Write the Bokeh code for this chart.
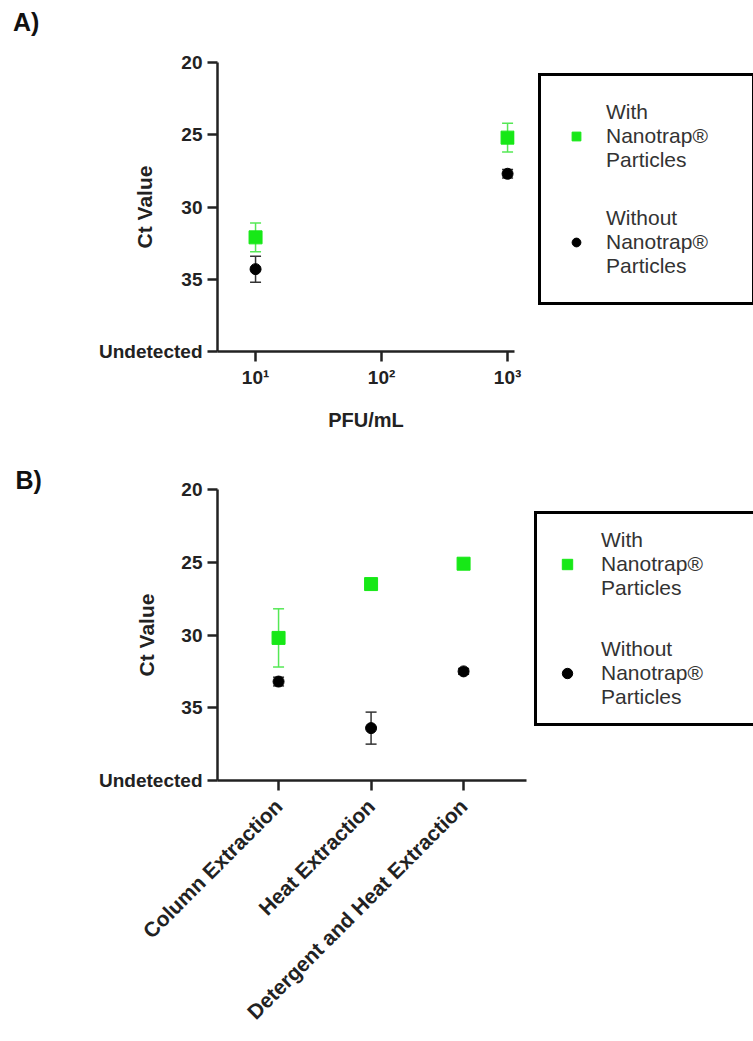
import math
from bokeh.plotting import figure
from bokeh.models import (Range1d, FixedTicker, Whisker, ColumnDataSource, Legend,
                          LegendItem, TeeHead, Div)
from bokeh.layouts import column
from bokeh.embed import file_html
from bokeh.resources import INLINE

# ---------------- data ----------------
conc = [10, 1000]
with_A = [32.1, 25.2]
with_A_err = [1.0, 1.0]
without_A = [34.3, 27.7]
without_A_err = [0.9, 0.3]

methods = ["Column Extraction", "Heat Extraction", "Detergent and Heat Extraction"]
with_B = [30.2, 26.5, 25.1]
with_B_err = [2.0, 0.2, 0.2]
without_B = [33.2, 36.4, 32.5]
without_B_err = [0.3, 1.1, 0.2]

y_ticks = [20, 25, 30, 35, 40]
y_overrides = {40: "Undetected"}
x_ticks_A = [10, 100, 1000]
x_labels_A = {10: "10\u00b9", 100: "10\u00b2", 1000: "10\u00b3"}

legend_with = "With\nNanotrap\u00ae\nParticles"
legend_without = "Without\nNanotrap\u00ae\nParticles"

GREEN = "#17E817"
GREEN_ERR = "#55E855"
FONT = "Liberation Sans"


def style(p):
    p.outline_line_color = None
    p.xgrid.visible = False
    p.ygrid.visible = False
    p.background_fill_color = "white"
    p.border_fill_color = "white"
    for ax in (p.xaxis[0], p.yaxis[0]):
        ax.axis_line_width = 2.5
        ax.axis_line_color = "#222222"
        ax.major_tick_line_width = 2.5
        ax.major_tick_line_color = "#222222"
        ax.major_tick_out = 10
        ax.major_tick_in = 0
        ax.minor_tick_line_color = None
        ax.major_label_text_font = FONT
        ax.major_label_text_font_style = "bold"
        ax.major_label_text_font_size = "19px"
        ax.major_label_text_color = "#222222"
        ax.major_label_standoff = 5
        ax.axis_label_text_font = FONT
        ax.axis_label_text_font_style = "bold"
        ax.axis_label_text_font_size = "21px"
        ax.axis_label_text_color = "#222222"
    p.yaxis[0].ticker = FixedTicker(ticks=y_ticks)
    p.yaxis[0].major_label_overrides = y_overrides


def errbars(p, xs, ys, errs, color):
    src = ColumnDataSource(dict(x=xs, lo=[y - e for y, e in zip(ys, errs)],
                                hi=[y + e for y, e in zip(ys, errs)]))
    w = Whisker(source=src, base="x", lower="lo", upper="hi", dimension="height",
                line_color=color, line_width=1.5,
                lower_head=TeeHead(size=11, line_color=color, line_width=1.5),
                upper_head=TeeHead(size=11, line_color=color, line_width=1.5))
    p.add_layout(w)


def make_legend(p, r_with, r_without, loc, padding, spacing, glyph_w, standoff, label_w):
    leg = Legend(items=[LegendItem(label=legend_with, renderers=[r_with]),
                        LegendItem(label=legend_without, renderers=[r_without])],
                 location=loc, padding=padding, spacing=spacing, margin=0,
                 glyph_width=glyph_w, glyph_height=26, label_standoff=standoff,
                 label_width=label_w, label_height=20,
                 border_line_color="black", border_line_width=3, border_line_alpha=1.0,
                 label_text_font=FONT, label_text_font_size="21px",
                 label_text_line_height=1.6, label_text_color="#333333",
                 background_fill_color="white", background_fill_alpha=1)
    p.add_layout(leg, "right")


# ---------------- panel label A ----------------
headA = Div(text='<div style="position:absolute; left:13px; top:10px; line-height:1; '
                 'font-family:\'Liberation Sans\'; font-weight:bold; font-size:25px; '
                 'color:#111111;">A)</div>',
            width=753, height=42, margin=0)

# ---------------- panel A ----------------
pA = figure(frame_width=297, frame_height=289, x_axis_type="log",
            x_range=Range1d(10 ** 0.698, 10 ** 3.055), y_range=Range1d(40, 20),
            min_border_left=207, min_border_right=249, min_border_top=20,
            min_border_bottom=89, output_backend="svg", toolbar_location=None)
style(pA)
pA.xaxis[0].ticker = FixedTicker(ticks=x_ticks_A)
pA.xaxis[0].major_label_overrides = x_labels_A
pA.xaxis[0].axis_label = "PFU/mL"
pA.xaxis[0].axis_label_standoff = 18
pA.xaxis[0].axis_label_text_font_size = "20px"
pA.yaxis[0].axis_label = "Ct Value"
pA.yaxis[0].axis_label_standoff = -60

errbars(pA, conc, with_A, with_A_err, GREEN_ERR)
errbars(pA, conc, without_A, without_A_err, "#333333")
rA_w = pA.scatter(conc, with_A, marker="square", size=13, color=GREEN)
rA_wo = pA.scatter(conc, without_A, marker="circle", size=11, color="black")
make_legend(pA, rA_w, rA_wo, (24, 46), 24, 34, 22, 19, 122)

# ---------------- panel B ----------------
xB = [i + 1 for i in range(len(methods))]
pB = figure(frame_width=309, frame_height=291,
            x_range=Range1d(0.34, 3.68), y_range=Range1d(40, 20),
            min_border_left=217, min_border_right=227, min_border_top=49,
            min_border_bottom=261, output_backend="svg", toolbar_location=None,
            title="B)")
style(pB)
pB.title.text_font = FONT
pB.title.text_font_style = "bold"
pB.title.text_font_size = "25px"
pB.title.text_color = "#111111"
pB.title.align = "left"
pB.title.offset = -202
pB.title.standoff = -8
pB.xaxis[0].ticker = FixedTicker(ticks=xB)
pB.xaxis[0].major_label_overrides = {x: m for x, m in zip(xB, methods)}
pB.xaxis[0].major_label_orientation = math.pi / 4
pB.xaxis[0].major_label_text_font_size = "21px"
pB.xaxis[0].major_label_standoff = 12
pB.yaxis[0].axis_label = "Ct Value"
pB.yaxis[0].axis_label_standoff = -62

errbars(pB, xB, with_B, with_B_err, GREEN_ERR)
errbars(pB, xB, without_B, without_B_err, "#333333")
rB_w = pB.scatter(xB, with_B, marker="square", size=13, color=GREEN)
rB_wo = pB.scatter(xB, without_B, marker="circle", size=11, color="black")
make_legend(pB, rB_w, rB_wo, (8, 54), 14, 37, 32, 18, 138)

layout = column(headA, pA, pB, spacing=0)
open("out.html", "w").write(file_html(layout, INLINE))
